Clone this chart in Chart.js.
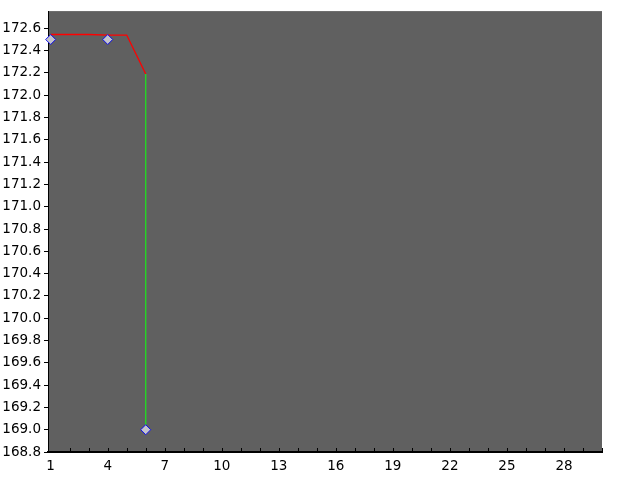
<!DOCTYPE html>
<html>
<head>
<meta charset="UTF-8">
<title>chart</title>
<script src="https://cdn.jsdelivr.net/npm/chart.js"></script>
<style>
  html, body { margin: 0; padding: 0; background: #fff; }
  #wrap { width: 640px; height: 480px; }
</style>
</head>
<body>
<div id="wrap"><canvas id="myChart" width="640" height="480"></canvas></div>
<script>
// red trace
var lineX = [1, 2, 3, 4, 5, 6];
var lineY = [172.545, 172.545, 172.545, 172.54, 172.54, 172.19];
// green drop
var dropX = [6, 6];
var dropY = [172.19, 169.0];
// diamond markers
var markX = [1, 4, 6];
var markY = [172.5, 172.5, 169.0];
// axis ranges / ticks
var xRange = [0.86, 30];
var yRange = [168.8, 172.755];
var xTicks = [1, 2, 3, 4, 5, 6, 7, 8, 9, 10, 11, 12, 13, 14, 15, 16, 17, 18, 19, 20,
              21, 22, 23, 24, 25, 26, 27, 28, 29, 30];
var xLabels = [1, 4, 7, 10, 13, 16, 19, 22, 25, 28];
var yTicks = [168.8, 169.0, 169.2, 169.4, 169.6, 169.8, 170.0, 170.2, 170.4, 170.6,
              170.8, 171.0, 171.2, 171.4, 171.6, 171.8, 172.0, 172.2, 172.4, 172.6];

function toPoints(xs, ys) {
    return xs.map(function (x, i) { return { x: x, y: ys[i] }; });
}

// grey plot background + inward ticks on the x axis
var plotDeco = {
    id: 'plotDeco',
    beforeDraw: function (chart) {
        var a = chart.chartArea, ctx = chart.ctx;
        ctx.save();
        ctx.fillStyle = '#606060';
        ctx.fillRect(a.left, a.top, a.right - a.left, a.bottom - a.top);
        ctx.restore();
    },
    afterDatasetsDraw: function (chart) {
        var xs = chart.scales.x, ctx = chart.ctx, a = chart.chartArea;
        ctx.save();
        ctx.strokeStyle = '#000';
        ctx.lineWidth = 1;
        xs.ticks.forEach(function (t, i) {
            if (i === 0) return;
            var px = Math.round(xs.getPixelForValue(t.value)) + 0.5;
            ctx.beginPath();
            ctx.moveTo(px, a.bottom);
            ctx.lineTo(px, a.bottom - 4);
            ctx.stroke();
        });
        ctx.restore();
    }
};

new Chart(document.getElementById('myChart').getContext('2d'), {
    type: 'scatter',
    data: {
        datasets: [
            {
                data: toPoints(markX, markY),
                showLine: false,
                clip: false,
                pointStyle: 'rectRot',
                pointRadius: 5,
                pointBackgroundColor: '#c4c4cc',
                pointBorderColor: '#1010ee',
                pointBorderWidth: 1,
                order: 0
            },
            {
                data: toPoints(lineX, lineY),
                showLine: true,
                borderColor: '#ff0000',
                borderWidth: 1.3,
                pointRadius: 0,
                order: 2
            },
            {
                data: toPoints(dropX, dropY),
                showLine: true,
                borderColor: '#22dd22',
                borderWidth: 1.3,
                pointRadius: 0,
                order: 1
            }
        ]
    },
    options: {
        responsive: false,
        animation: false,
        layout: { padding: { top: 10, right: 38, left: 0, bottom: 0 } },
        plugins: {
            legend: { display: false },
            tooltip: { enabled: false }
        },
        scales: {
            x: {
                type: 'linear',
                min: xRange[0],
                max: xRange[1],
                afterFit: function (s) { s.height = 28; },
                afterBuildTicks: function (s) {
                    s.ticks = xTicks.map(function (v) { return { value: v }; });
                },
                ticks: {
                    autoSkip: false,
                    maxRotation: 0,
                    padding: 6,
                    color: '#000',
                    font: { family: 'DejaVu Sans', size: 13.5 },
                    callback: function (v) {
                        return xLabels.indexOf(v) >= 0 ? String(v) : '';
                    }
                },
                grid: { drawOnChartArea: false, drawTicks: false },
                border: { color: '#000', width: 2 }
            },
            y: {
                min: yRange[0],
                max: yRange[1],
                afterFit: function (s) { s.width = 48; },
                afterBuildTicks: function (s) {
                    s.ticks = yTicks.map(function (v) { return { value: v }; });
                },
                ticks: {
                    autoSkip: false,
                    padding: 3,
                    color: '#000',
                    font: { family: 'DejaVu Sans', size: 13.5 },
                    callback: function (v) { return v.toFixed(1); }
                },
                grid: { drawOnChartArea: false, drawTicks: true, tickLength: 4, color: '#000' },
                border: { color: '#000', width: 1 }
            }
        }
    },
    plugins: [plotDeco]
});
</script>
</body>
</html>
